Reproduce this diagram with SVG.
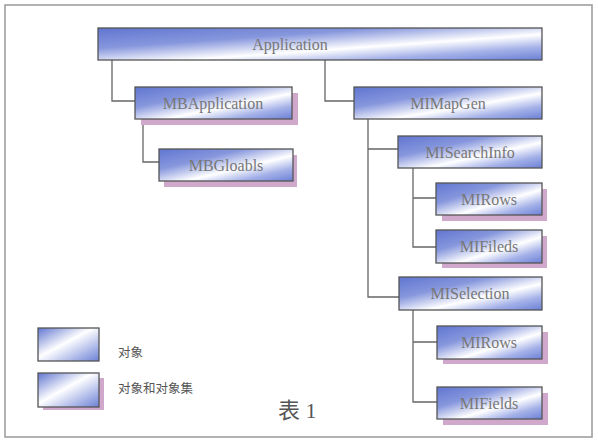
<svg xmlns="http://www.w3.org/2000/svg" width="598" height="445" viewBox="0 0 598 445">
<defs>
<linearGradient id="g" x1="0" y1="0" x2="1" y2="1">
<stop offset="0" stop-color="#6075d0"/>
<stop offset="0.32" stop-color="#8797dd"/>
<stop offset="0.6" stop-color="#ffffff"/>
<stop offset="0.8" stop-color="#a4b1e8"/>
<stop offset="1" stop-color="#6b80d6"/>
</linearGradient>
<linearGradient id="gl" x1="0" y1="0" x2="1" y2="1">
<stop offset="0" stop-color="#6075d0"/>
<stop offset="0.45" stop-color="#ffffff"/>
<stop offset="1" stop-color="#6b80d6"/>
</linearGradient>
</defs>
<style>
.box{fill:url(#g);stroke:#555;stroke-width:1.3}
.lbox{fill:url(#gl);stroke:#555;stroke-width:1.3}
.sh{fill:#cfa8cc}
.t{font-family:"Liberation Serif",serif;font-size:16px;fill:#777;text-anchor:middle}
.c{font-family:"Noto Sans CJK SC",serif;font-size:12.5px;fill:#555}
.ln{fill:none;stroke:#666;stroke-width:1.3}
</style>
<rect x="5" y="5" width="587" height="432" fill="#fff" stroke="#999" stroke-width="1.5"/>
<g id="connectors">
<path class="ln" d="M112 60 V101 H135"/>
<path class="ln" d="M325 60 V101 H354"/>
<path class="ln" d="M143 119 V162 H159"/>
<path class="ln" d="M368 119 V297 H399 M368 149 H398"/>
<path class="ln" d="M413 168 V247 H436 M413 198 H436"/>
<path class="ln" d="M413 310 V402 H437 M413 342 H437"/>
</g>
<g id="application">
<rect class="box" x="98" y="28" width="444" height="32"/>
<text class="t" x="290" y="50">Application</text>
</g>
<g id="mbapplication">
<rect class="sh" x="141" y="93" width="157" height="32"/>
<rect class="box" x="135" y="87" width="157" height="32"/>
<text class="t" x="213" y="109">MBApplication</text>
</g>
<g id="mimapgen">
<rect class="box" x="354" y="87" width="188" height="32"/>
<text class="t" x="448" y="109">MIMapGen</text>
</g>
<g id="mbgloabls">
<rect class="sh" x="164" y="155" width="133" height="32"/>
<rect class="box" x="159" y="149" width="134" height="32"/>
<text class="t" x="226" y="171">MBGloabls</text>
</g>
<g id="misearchinfo">
<rect class="box" x="398" y="136" width="144" height="32"/>
<text class="t" x="470" y="158">MISearchInfo</text>
</g>
<g id="mirows1">
<rect class="sh" x="442" y="189" width="105" height="32"/>
<rect class="box" x="436" y="183" width="106" height="32"/>
<text class="t" x="489" y="205">MIRows</text>
</g>
<g id="mifileds">
<rect class="sh" x="442" y="236" width="105" height="32"/>
<rect class="box" x="436" y="230" width="106" height="33"/>
<text class="t" x="489" y="252">MIFileds</text>
</g>
<g id="miselection">
<rect class="box" x="399" y="277" width="143" height="33"/>
<text class="t" x="470" y="299">MISelection</text>
</g>
<g id="mirows2">
<rect class="sh" x="443" y="332" width="105" height="32"/>
<rect class="box" x="437" y="326" width="105" height="33"/>
<text class="t" x="489" y="348">MIRows</text>
</g>
<g id="mifields">
<rect class="sh" x="443" y="393" width="105" height="32"/>
<rect class="box" x="437" y="387" width="105" height="32"/>
<text class="t" x="489" y="409">MIFields</text>
</g>
<g id="legend-object">
<rect class="lbox" x="38" y="328" width="61" height="33"/>
<text class="c" x="118" y="357">对象</text>
</g>
<g id="legend-collection">
<rect class="sh" x="43" y="378" width="61" height="32"/>
<rect class="lbox" x="38" y="373" width="61" height="34"/>
<text class="c" x="118" y="393">对象和对象集</text>
</g>
<text x="278" y="418" style="font-family:'Liberation Serif','Noto Sans CJK SC',serif;font-size:22px;fill:#555">表 1</text>
</svg>
